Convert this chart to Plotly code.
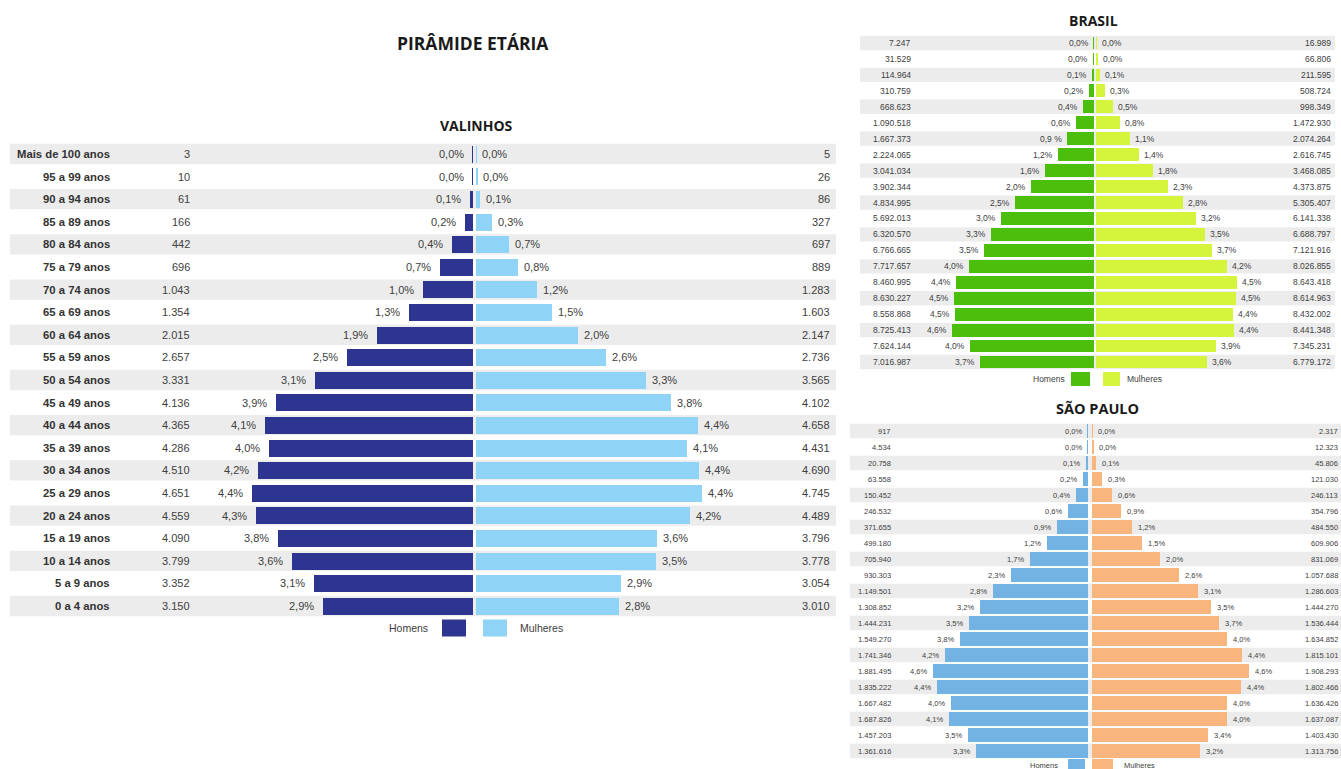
import plotly.graph_objects as go

W, H = 1341, 769

# ---------------- DATA ----------------
ages = ["Mais de 100 anos", "95 a 99 anos", "90 a 94 anos", "85 a 89 anos", "80 a 84 anos",
        "75 a 79 anos", "70 a 74 anos", "65 a 69 anos", "60 a 64 anos", "55 a 59 anos",
        "50 a 54 anos", "45 a 49 anos", "40 a 44 anos", "35 a 39 anos", "30 a 34 anos",
        "25 a 29 anos", "20 a 24 anos", "15 a 19 anos", "10 a 14 anos", "5 a 9 anos", "0 a 4 anos"]

val_homens = [3, 10, 61, 166, 442, 696, 1043, 1354, 2015, 2657, 3331, 4136, 4365, 4286, 4510,
              4651, 4559, 4090, 3799, 3352, 3150]
val_mulheres = [5, 26, 86, 327, 697, 889, 1283, 1603, 2147, 2736, 3565, 4102, 4658, 4431, 4690,
                4745, 4489, 3796, 3778, 3054, 3010]
val_pct_h = ["0,0%", "0,0%", "0,1%", "0,2%", "0,4%", "0,7%", "1,0%", "1,3%", "1,9%", "2,5%", "3,1%",
             "3,9%", "4,1%", "4,0%", "4,2%", "4,4%", "4,3%", "3,8%", "3,6%", "3,1%", "2,9%"]
val_pct_m = ["0,0%", "0,0%", "0,1%", "0,3%", "0,7%", "0,8%", "1,2%", "1,5%", "2,0%", "2,6%", "3,3%",
             "3,8%", "4,4%", "4,1%", "4,4%", "4,4%", "4,2%", "3,6%", "3,5%", "2,9%", "2,8%"]

br_homens = [7247, 31529, 114964, 310759, 668623, 1090518, 1667373, 2224065, 3041034, 3902344,
             4834995, 5692013, 6320570, 6766665, 7717657, 8460995, 8630227, 8558868, 8725413,
             7624144, 7016987]
br_mulheres = [16989, 66806, 211595, 508724, 998349, 1472930, 2074264, 2616745, 3468085, 4373875,
               5305407, 6141338, 6688797, 7121916, 8026855, 8643418, 8614963, 8432002, 8441348,
               7345231, 6779172]
br_pct_h = ["0,0%", "0,0%", "0,1%", "0,2%", "0,4%", "0,6%", "0,9 %", "1,2%", "1,6%", "2,0%", "2,5%",
            "3,0%", "3,3%", "3,5%", "4,0%", "4,4%", "4,5%", "4,5%", "4,6%", "4,0%", "3,7%"]
br_pct_m = ["0,0%", "0,0%", "0,1%", "0,3%", "0,5%", "0,8%", "1,1%", "1,4%", "1,8%", "2,3%", "2,8%",
            "3,2%", "3,5%", "3,7%", "4,2%", "4,5%", "4,5%", "4,4%", "4,4%", "3,9%", "3,6%"]

sp_homens = [917, 4534, 20758, 63558, 150452, 246532, 371655, 499180, 705940, 930303, 1149501,
             1308852, 1444231, 1549270, 1741346, 1881495, 1835222, 1667482, 1687826, 1457203, 1361616]
sp_mulheres = [2317, 12323, 45806, 121030, 246113, 354796, 484550, 609906, 831069, 1057688, 1286603,
               1444270, 1536444, 1634852, 1815101, 1908293, 1802466, 1636426, 1637087, 1403430, 1313756]
sp_pct_h = ["0,0%", "0,0%", "0,1%", "0,2%", "0,4%", "0,6%", "0,9%", "1,2%", "1,7%", "2,3%", "2,8%",
            "3,2%", "3,5%", "3,8%", "4,2%", "4,6%", "4,4%", "4,0%", "4,1%", "3,5%", "3,3%"]
sp_pct_m = ["0,0%", "0,0%", "0,1%", "0,3%", "0,6%", "0,9%", "1,2%", "1,5%", "2,0%", "2,6%", "3,1%",
            "3,5%", "3,7%", "4,0%", "4,4%", "4,6%", "4,4%", "4,0%", "4,0%", "3,4%", "3,2%"]

legend_labels = ["Homens", "Mulheres"]


def fmt(n):
    return f"{n:,}".replace(",", ".")


def px(x):
    return x / W


def py(y):
    return 1 - y / H


FONT = "Liberation Sans, Arial, sans-serif"
TFONT = "Open Sans, Liberation Sans, sans-serif"

panels = [
    dict(title="VALINHOS", men=val_homens, women=val_mulheres, lm=val_pct_h, lw=val_pct_m,
         cm="#2E3590", cw="#8FD3F6", ax="x", ay="y",
         center=474.5, gap=1.5, scale=50.8, left=10, right=836, top=142.7, bottom=617.3,
         bw=0.76, fs=11, sm=-7, sw=4, nl=192, nr=832, stl=10, str_=836,
         tx=476, ty=125, tfs=14, ages_x=112,
         leg=dict(y=628, h=17, sq1=(442, 466), sq2=(483, 507), tl=430, tr=518, fs=10.5)),
    dict(title="BRASIL", men=br_homens, women=br_mulheres, lm=br_pct_h, lw=br_pct_m,
         cm="#4CBF0C", cw="#D4F53C", ax="x2", ay="y2",
         center=1095.2, gap=1.25, scale=31.0, left=850, right=1341, top=35, bottom=370,
         bw=0.8, fs=8.5, sm=-3, sw=3, nl=913, nr=1333, stl=860, str_=1335,
         tx=1093, ty=20, tfs=14, ages_x=None,
         leg=dict(y=379, h=14, sq1=(1071, 1090), sq2=(1103, 1120), tl=1067, tr=1125, fs=8.5)),
    dict(title="SÃO PAULO", men=sp_homens, women=sp_mulheres, lm=sp_pct_h, lw=sp_pct_m,
         cm="#72B3E3", cw="#F8B67E", ax="x3", ay="y3",
         center=1090, gap=2.0, scale=34.0, left=850, right=1341, top=423, bottom=759,
         bw=0.82, fs=7.5, sm=-4, sw=4, nl=893, nr=1340, stl=850, str_=1341,
         tx=1097, ty=408, tfs=14.5, ages_x=None,
         leg=dict(y=765, h=12, sq1=(1068, 1085), sq2=(1092, 1113), tl=1060, tr=1122, fs=7.5)),
]

fig = go.Figure()
shapes = []
annotations = []
layout_axes = {}

for i, p in enumerate(panels):
    total = sum(p["men"]) + sum(p["women"])
    pm = [v / total * 100 for v in p["men"]]
    pw = [v / total * 100 for v in p["women"]]
    g = p["gap"] / p["scale"]

    fig.add_trace(go.Bar(y=ages, x=[-v for v in pm], base=-g, orientation="h",
                         marker=dict(color=p["cm"], line=dict(width=0)), width=p["bw"],
                         xaxis=p["ax"], yaxis=p["ay"], name="Homens", hoverinfo="skip"))
    fig.add_trace(go.Bar(y=ages, x=pw, base=g, orientation="h",
                         marker=dict(color=p["cw"], line=dict(width=0)), width=p["bw"],
                         xaxis=p["ax"], yaxis=p["ay"], name="Mulheres", hoverinfo="skip"))

    suffix = "" if i == 0 else str(i + 1)
    layout_axes["xaxis" + suffix] = dict(
        domain=[px(p["left"]), px(p["right"])],
        range=[(p["left"] - p["center"]) / p["scale"], (p["right"] - p["center"]) / p["scale"]],
        visible=False, fixedrange=True, anchor=p["ay"])
    layout_axes["yaxis" + suffix] = dict(
        domain=[py(p["bottom"]), py(p["top"])], type="category",
        categoryorder="array", categoryarray=ages, range=[20.5, -0.5],
        visible=False, fixedrange=True, anchor=p["ax"])

    # alternating stripes
    for k in range(0, len(ages), 2):
        shapes.append(dict(type="rect", xref="paper", yref=p["ay"],
                           x0=px(p["stl"]), x1=px(p["str_"]), y0=k - 0.45, y1=k + 0.45,
                           fillcolor="#ECECEC", line=dict(width=0), layer="below"))

    txt = dict(family=FONT, size=p["fs"], color="#404040")
    for k, a in enumerate(ages):
        annotations.append(dict(xref=p["ax"], yref=p["ay"], x=-g - pm[k], y=a, text=p["lm"][k],
                                xanchor="right", xshift=p["sm"], showarrow=False, font=txt))
        annotations.append(dict(xref=p["ax"], yref=p["ay"], x=g + pw[k], y=a, text=p["lw"][k],
                                xanchor="left", xshift=p["sw"], showarrow=False, font=txt))
        annotations.append(dict(xref="paper", yref=p["ay"], x=px(p["nl"]), y=a, text=fmt(p["men"][k]),
                                xanchor="right", showarrow=False, font=txt))
        annotations.append(dict(xref="paper", yref=p["ay"], x=px(p["nr"]), y=a, text=fmt(p["women"][k]),
                                xanchor="right", showarrow=False, font=txt))
        if p["ages_x"] is not None:
            annotations.append(dict(xref="paper", yref=p["ay"], x=px(p["ages_x"]), y=a,
                                    text="<b>" + a + "</b>", xanchor="right", showarrow=False,
                                    font=dict(family=FONT, size=11.3, color="#333333")))

    # panel title
    annotations.append(dict(xref="paper", yref="paper", x=px(p["tx"]), y=py(p["ty"]),
                            text="<b>" + p["title"] + "</b>", xanchor="center", yanchor="middle",
                            showarrow=False, font=dict(family=TFONT, size=p["tfs"], color="#1a1a1a")))

    # legend
    L = p["leg"]
    for (x0, x1), col in [(L["sq1"], p["cm"]), (L["sq2"], p["cw"])]:
        shapes.append(dict(type="rect", xref="paper", yref="paper",
                           x0=px(x0), x1=px(x1), y0=py(L["y"] + L["h"] / 2), y1=py(L["y"] - L["h"] / 2),
                           fillcolor=col, line=dict(width=0)))
    lf = dict(family=FONT, size=L["fs"], color="#404040")
    annotations.append(dict(xref="paper", yref="paper", x=px(L["tl"]), y=py(L["y"]), text=legend_labels[0],
                            xanchor="right", yanchor="middle", showarrow=False, font=lf))
    annotations.append(dict(xref="paper", yref="paper", x=px(L["tr"]), y=py(L["y"]), text=legend_labels[1],
                            xanchor="left", yanchor="middle", showarrow=False, font=lf))

# main title
annotations.append(dict(xref="paper", yref="paper", x=px(473), y=py(43),
                        text="<b>PIRÂMIDE ETÁRIA</b>", xanchor="center", yanchor="middle",
                        showarrow=False, font=dict(family=TFONT, size=17.5, color="#1a1a1a")))

fig.update_layout(
    width=W, height=H, margin=dict(l=0, r=0, t=0, b=0),
    paper_bgcolor="white", plot_bgcolor="rgba(0,0,0,0)",
    barmode="overlay", showlegend=False, bargap=0,
    shapes=shapes, annotations=annotations,
    **layout_axes,
)

fig.write_html("out.html", config={"displayModeBar": False},
               post_script="document.body.style.margin='0';document.body.style.overflow='hidden';")
